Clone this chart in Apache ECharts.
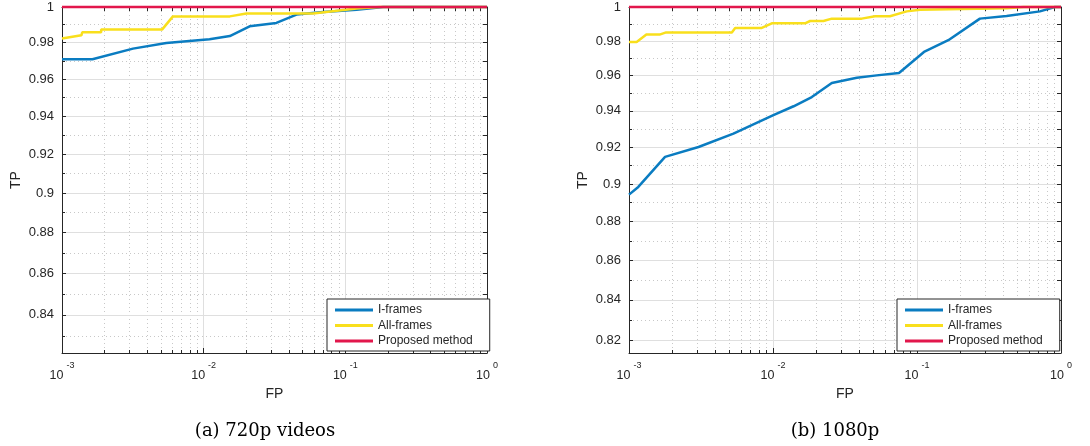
<!DOCTYPE html>
<html>
<head>
<meta charset="utf-8">
<script src="https://cdn.jsdelivr.net/npm/echarts@6/dist/echarts.min.js"></script>
<style>
html,body{margin:0;padding:0;background:#fff;}
#chart{width:1090px;height:446px;}
</style>
</head>
<body>
<div id="chart"></div>
<script>
// ---------- data ----------
const seriesNames = ['I-frames', 'All-frames', 'Proposed method'];
const fpTicks = [0.001, 0.01, 0.1, 1];
const fpMinorTicks = [0.002,0.003,0.004,0.005,0.006,0.007,0.008,0.009,
                      0.02,0.03,0.04,0.05,0.06,0.07,0.08,0.09,
                      0.2,0.3,0.4,0.5,0.6,0.7,0.8,0.9];
const tpTicks720 = [0.84, 0.86, 0.88, 0.9, 0.92, 0.94, 0.96, 0.98, 1];
const tpMinor720 = [0.83, 0.85, 0.87, 0.89, 0.91, 0.93, 0.95, 0.97, 0.99];
const tpTicks1080 = [0.82, 0.84, 0.86, 0.88, 0.9, 0.92, 0.94, 0.96, 0.98, 1];
const tpMinor1080 = [0.83, 0.85, 0.87, 0.89, 0.91, 0.93, 0.95, 0.97, 0.99];
const tpRange720 = [0.822, 1];
const tpRange1080 = [0.8138, 1];
const fpRange = [0.001, 1];

// 720p panel: [FP, TP]
const iframes720 = [[0.001,0.9708],[0.00164,0.9708],[0.00317,0.9767],[0.00545,0.9798],[0.011,0.9819],
  [0.0153,0.9837],[0.0211,0.9891],[0.0326,0.9910],[0.0452,0.9957],[0.0697,0.9972],[0.12,0.9985],[0.185,1],[1,1]];
const allframes720 = [[0.001,0.9823],[0.00137,0.9841],[0.00139,0.9858],[0.00189,0.9858],[0.00189,0.9874],
  [0.0051,0.9874],[0.00607,0.9947],[0.0153,0.9947],[0.020,0.9963],[0.0592,0.9963],[0.12,0.9991],[0.175,1],[1,1]];
const proposed720 = [[0.001,1],[1,1]];

// 1080p panel: [FP, TP]
const iframes1080 = [[0.001,0.8943],[0.00116,0.8984],[0.00178,0.9146],[0.00304,0.9200],[0.00531,0.9274],
  [0.01006,0.9376],[0.0139,0.9426],[0.0186,0.9478],[0.0256,0.9558],[0.0382,0.9588],[0.0525,0.9601],
  [0.075,0.9615],[0.1118,0.9736],[0.165,0.9804],[0.2735,0.9931],[0.419,0.9947],[0.714,0.9974],[0.907,1],[1,1]];
const allframes1080 = [[0.001,0.9794],[0.00113,0.9794],[0.00132,0.9837],[0.00163,0.9837],[0.00181,0.985],
  [0.00518,0.985],[0.00546,0.9876],[0.00836,0.9876],[0.00981,0.9903],[0.0167,0.9903],[0.0181,0.9917],
  [0.0224,0.9917],[0.0256,0.9931],[0.0413,0.9931],[0.0511,0.9945],[0.0649,0.9945],[0.0848,0.9974],
  [0.105,0.9984],[0.42,0.9993],[0.55,1],[1,1]];
const proposed1080 = [[0.001,1],[1,1]];

const captions = ['(a) 720p videos', '(b) 1080p'];

// ---------- styles ----------
const FONT = '"Liberation Sans", Arial, sans-serif';
const TXT = '#262626';
const AXIS = '#262626';
const GRID_MAJOR = '#dfdfdf';
const GRID_MINOR = '#c8c8c8';
const COLORS = ['#0a7cc1', '#f9df1c', '#e2174c'];

const panels = [
  {grid:{left:62, top:7, width:425, height:346}, yRange:tpRange720, yTicks:tpTicks720, yMinor:tpMinor720,
   data:[iframes720, allframes720, proposed720], legend:{left:327, top:299}, caption:{x:265, y:431}},
  {grid:{left:629, top:7, width:432, height:346}, yRange:tpRange1080, yTicks:tpTicks1080, yMinor:tpMinor1080,
   data:[iframes1080, allframes1080, proposed1080], legend:{left:897, top:299}, caption:{x:835, y:431}}
];

const grids = [], xAxes = [], yAxes = [], series = [], legends = [], graphics = [];

panels.forEach((p, g) => {
  grids.push(Object.assign({containLabel:false}, p.grid));
  const base = {gridIndex:g, type:'log', logBase:10, min:fpRange[0], max:fpRange[1]};
  const xMajorIdx = xAxes.length;
  xAxes.push(Object.assign({}, base, {
    position:'bottom', z:3,
    name:'FP', nameLocation:'middle', nameGap:33,
    nameTextStyle:{fontSize:14, color:TXT, fontFamily:FONT},
    axisLine:{show:true, lineStyle:{color:AXIS, width:1}},
    axisTick:{show:true, inside:true, length:5, customValues:fpTicks, lineStyle:{color:AXIS}},
    axisLabel:{show:true, customValues:fpTicks, margin:8, color:TXT,
      formatter: v => '{b|10}{s|' + Math.round(Math.log10(v)) + '}',
      rich:{b:{fontSize:12.5, fontFamily:FONT, color:TXT, padding:[8,0,0,0]},
            s:{fontSize:9, fontFamily:FONT, color:TXT, padding:[0,0,0,3], verticalAlign:'top'}}},
    splitLine:{show:true, lineStyle:{color:GRID_MAJOR, width:1}}
  }));
  xAxes.push(Object.assign({}, base, {
    position:'bottom', z:2,
    axisLine:{show:false},
    axisTick:{show:true, inside:true, length:3, customValues:fpMinorTicks, lineStyle:{color:AXIS}},
    axisLabel:{show:false},
    splitLine:{show:true, lineStyle:{color:GRID_MINOR, width:1, type:[1,3]}}
  }));
  xAxes.push(Object.assign({}, base, {
    position:'top', z:3,
    axisLine:{show:true, lineStyle:{color:AXIS, width:1}},
    axisTick:{show:true, inside:true, length:4, customValues:fpTicks.concat(fpMinorTicks), lineStyle:{color:AXIS}},
    axisLabel:{show:false}, splitLine:{show:false}
  }));

  const ybase = {gridIndex:g, type:'log', logBase:10, min:p.yRange[0], max:p.yRange[1]};
  const yMajorIdx = yAxes.length;
  yAxes.push(Object.assign({}, ybase, {
    position:'left', z:3,
    name:'TP', nameLocation:'middle', nameGap:39,
    nameTextStyle:{fontSize:14, color:TXT, fontFamily:FONT},
    axisLine:{show:true, lineStyle:{color:AXIS, width:1}},
    axisTick:{show:true, inside:true, length:4, customValues:p.yTicks, lineStyle:{color:AXIS}},
    axisLabel:{show:true, customValues:p.yTicks, margin:8, fontSize:13, fontFamily:FONT, color:TXT,
      formatter: v => String(Math.round(v*100)/100)},
    splitLine:{show:true, lineStyle:{color:GRID_MAJOR, width:1}}
  }));
  yAxes.push(Object.assign({}, ybase, {
    position:'left', z:2,
    axisLine:{show:false},
    axisTick:{show:true, inside:true, length:3, customValues:p.yMinor, lineStyle:{color:AXIS}},
    axisLabel:{show:false},
    splitLine:{show:true, lineStyle:{color:GRID_MINOR, width:1, type:[1,3]}}
  }));
  yAxes.push(Object.assign({}, ybase, {
    position:'right', z:3,
    axisLine:{show:true, lineStyle:{color:AXIS, width:1}},
    axisTick:{show:true, inside:true, length:4, customValues:p.yTicks.concat(p.yMinor), lineStyle:{color:AXIS}},
    axisLabel:{show:false}, splitLine:{show:false}
  }));

  p.data.forEach((d, i) => {
    series.push({
      type:'line', name:seriesNames[i], data:d,
      xAxisIndex:xMajorIdx, yAxisIndex:yMajorIdx,
      showSymbol:false, symbol:'none', clip:false, z:10+i,
      lineStyle:{color:COLORS[i], width:2.5}, itemStyle:{color:COLORS[i]},
      emphasis:{disabled:true}
    });
  });

  legends.push({
    left:p.legend.left, top:p.legend.top, orient:'vertical', data:seriesNames,
    icon:'rect', itemWidth:38, itemHeight:3, itemGap:2.5,
    padding:[4.5,17,3.5,8], borderColor:AXIS, borderWidth:1, backgroundColor:'#fff',
    textStyle:{fontSize:12, color:TXT, fontFamily:FONT, lineHeight:13},
    selectedMode:false, z:20
  });

  graphics.push({type:'text', x:p.caption.x, y:p.caption.y,
    style:{text:captions[g], font:'18px "DejaVu Serif", serif', fill:'#000',
      textAlign:'center', textVerticalAlign:'middle'}});
});

const chart = echarts.init(document.getElementById('chart'), null, {renderer:'canvas'});
chart.setOption({
  animation:false,
  backgroundColor:'#fff',
  color:COLORS,
  grid:grids, xAxis:xAxes, yAxis:yAxes, series:series, legend:legends, graphic:graphics
});
</script>
</body>
</html>
